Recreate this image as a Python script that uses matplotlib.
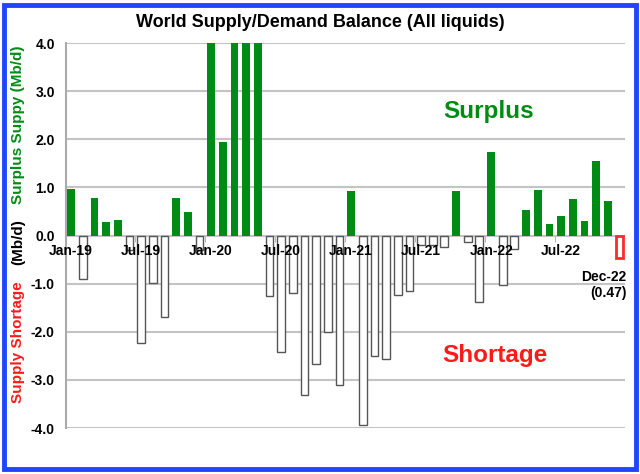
import matplotlib
matplotlib.use('Agg')
from matplotlib import pyplot as plt
from matplotlib.patches import Rectangle

plt.rcParams['font.family'] = ['Liberation Sans', 'DejaVu Sans']
plt.rcParams['font.weight'] = 'bold'

# monthly balance, Jan-19 .. Dec-22 (Mb/d); bars above 4.0 are clipped in the chart
months = ['Jan-19', 'Feb-19', 'Mar-19', 'Apr-19', 'May-19', 'Jun-19',
          'Jul-19', 'Aug-19', 'Sep-19', 'Oct-19', 'Nov-19', 'Dec-19',
          'Jan-20', 'Feb-20', 'Mar-20', 'Apr-20', 'May-20', 'Jun-20',
          'Jul-20', 'Aug-20', 'Sep-20', 'Oct-20', 'Nov-20', 'Dec-20',
          'Jan-21', 'Feb-21', 'Mar-21', 'Apr-21', 'May-21', 'Jun-21',
          'Jul-21', 'Aug-21', 'Sep-21', 'Oct-21', 'Nov-21', 'Dec-21',
          'Jan-22', 'Feb-22', 'Mar-22', 'Apr-22', 'May-22', 'Jun-22',
          'Jul-22', 'Aug-22', 'Sep-22', 'Oct-22', 'Nov-22', 'Dec-22']
balance = [0.96, -0.91, 0.79, 0.28, 0.33, -0.30,
           -2.24, -0.98, -1.70, 0.79, 0.50, -0.30,
           4.5, 1.94, 6.0, 14.0, 8.0, -1.26,
           -2.42, -1.20, -3.31, -2.66, -2.00, -3.11,
           0.93, -3.94, -2.50, -2.57, -1.24, -1.15,
           -0.19, -0.19, -0.24, 0.93, -0.14, -1.38,
           1.74, -1.02, -0.27, 0.54, 0.95, 0.25,
           0.41, 0.75, 0.30, 1.54, 0.71, -0.47]
last_label = 'Dec-22\n(0.47)'

x = list(range(len(balance)))
green = '#008c14'

fig = plt.figure(figsize=(6.4, 4.74), dpi=100)
ax = fig.add_axes([0.103, 0.097, 0.874, 0.812])

pos_x = [i for i in x[:-1] if balance[i] > 0]
neg_x = [i for i in x[:-1] if balance[i] <= 0]
ax.bar(pos_x, [balance[i] for i in pos_x], width=0.64, color=green, zorder=3)
ax.bar(neg_x, [balance[i] for i in neg_x], width=0.68, color='white',
       edgecolor='#555555', linewidth=1, zorder=3)
# latest month outlined in red
ax.bar(x[-1], balance[-1], width=0.6, color='white', edgecolor='#ff2a2a',
       linewidth=2, zorder=3)

ax.set_xlim(-0.45, 47.5)
ax.set_ylim(-4, 4)
ax.set_yticks([-4, -3, -2, -1, 0, 1, 2, 3, 4])
ax.set_yticklabels(['%.1f' % v for v in [-4, -3, -2, -1, 0, 1, 2, 3, 4]],
                   fontsize=10, fontweight='bold')
ax.grid(axis='y', color='#c4c4c4', linewidth=1.5, zorder=0)
ax.tick_params(axis='y', length=0, pad=8)

ax.set_xticks(x[::6])
ax.set_xticklabels(months[::6], fontsize=10, fontweight='bold')
ax.set_xticks([i - 0.5 for i in x[6::6]], minor=True)
ax.tick_params(axis='x', which='major', length=0, pad=6)
ax.tick_params(axis='x', which='minor', length=4, color='#aaaaaa', direction='out')

for s in ['top', 'right', 'bottom']:
    ax.spines[s].set_visible(False)
ax.spines['left'].set_color('#aaaaaa')
ax.spines['left'].set_linewidth(1.5)
ax.spines['bottom'].set_position(('data', 0))
# month labels sit on top of the bars
ax.xaxis.set_zorder(5)

ax.text(47.6, -1.03, last_label, ha='right', va='center', fontsize=10,
        fontweight='bold', multialignment='right')

ax.text(35.8, 2.57, 'Surplus', color=green, fontsize=17.5, fontweight='bold',
        ha='center', va='center')
ax.text(36.3, -2.5, 'Shortage', color='#ff1a1a', fontsize=17.5, fontweight='bold',
        ha='center', va='center')

fig.text(0.5, 0.953, 'World Supply/Demand Balance (All liquids)', ha='center',
         va='center', fontsize=13, fontweight='bold')

# the split y label
fig.text(0.028, 1 - 125 / 474, 'Surplus Suppy (Mb/d)', color=green, rotation=90,
         ha='center', va='center', fontsize=11, fontweight='bold')
fig.text(0.028, 1 - 242 / 474, '(Mb/d)', color='black', rotation=90,
         ha='center', va='center', fontsize=11, fontweight='bold')
fig.text(0.028, 1 - 342 / 474, 'Supply Shortage', color='#ff1a1a', rotation=90,
         ha='center', va='center', fontsize=11, fontweight='bold')

fig.patches.append(Rectangle((4 / 640, 5 / 474), 632 / 640, 464 / 474,
                             transform=fig.transFigure, fill=False,
                             edgecolor='#1f45ff', linewidth=3.5))

fig.savefig('out.png', dpi=100)
